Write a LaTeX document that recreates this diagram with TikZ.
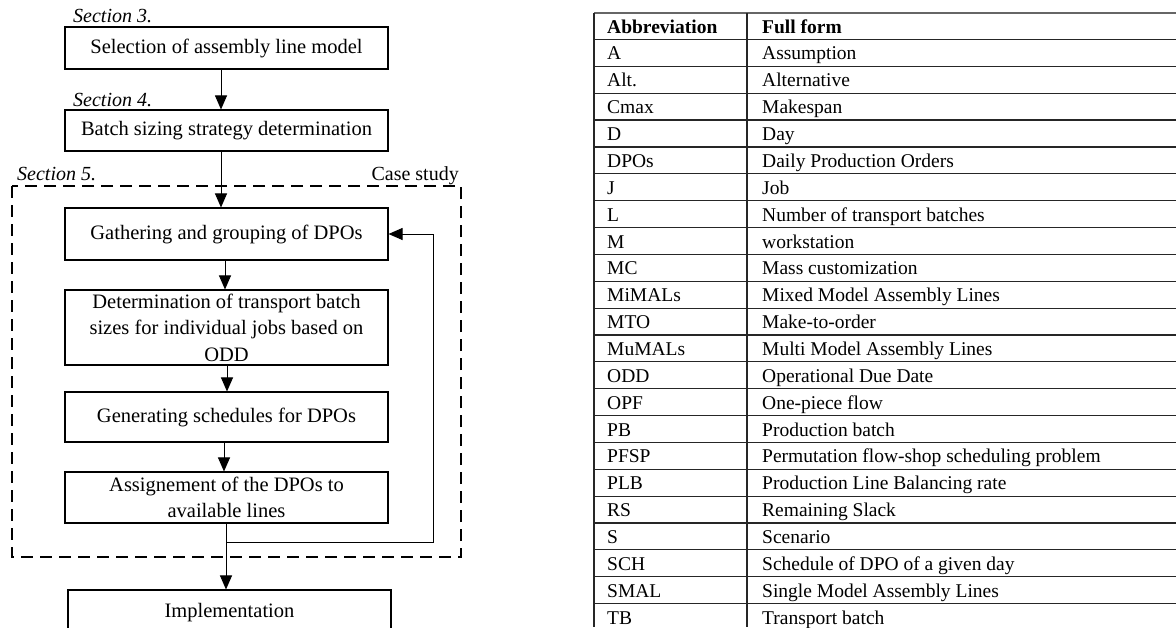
\documentclass[tikz,border=0pt]{standalone}
\usepackage{fontspec}
\setmainfont{Liberation Serif}
\usepackage{tikz}
\usetikzlibrary{arrows.meta}
\tikzset{stage/.style={draw, line width=1.1pt, minimum width=323pt, inner sep=0pt,
   align=center, font=\fontsize{20.5}{26.5}\selectfont},
 arr/.style={line width=1pt, -{Triangle[length=14pt,width=12pt]}},
 seclabel/.style={anchor=base west, inner sep=0pt, font=\fontsize{20}{24}\selectfont\itshape},
 casebox/.style={line width=2.6pt, dash pattern=on 12pt off 7pt},
 cell/.style={anchor=base west, inner sep=0pt, font=\fontsize{19.5}{22}\selectfont},
 headcell/.style={cell, font=\fontsize{19.5}{22}\selectfont\bfseries},
 rule/.style={line width=1.2pt, black!85},
 }

\begin{document}
\begin{tikzpicture}[x=1pt, y=-1pt]
        \clip (0,0) rectangle (1176,627);
        \fill[white] (0,0) rectangle (1176,627);
        % flow chart
        \node[seclabel] (sec3) at (73, 22) {Section 3.};
        \node[seclabel] (sec4) at (73, 106) {Section 4.};
        \node[seclabel] (sec5) at (17, 180) {Section 5.};
        \node[anchor=base east, inner sep=0pt, font=\fontsize{20}{24}\selectfont] (case) at (459, 180) {Case study};
        \draw[casebox] (12, 186) rectangle (461, 557);
        \node[stage, minimum height=42pt] (sel) at (226.5, 48) {Selection of assembly line model};
        \node[stage, minimum height=41pt] (batch) at (226.5, 130.5) {Batch sizing strategy determination};
        \node[stage, minimum height=52pt] (gather) at (226.5, 234) {Gathering and grouping of DPOs};
        \node[stage, minimum height=75pt] (transp) at (226.5, 327.5) {Determination of transport batch\\sizes for individual jobs based on\\ODD};
        \node[stage, minimum height=50pt] (sched) at (226.5, 417) {Generating schedules for DPOs};
        \node[stage, minimum height=51pt] (assign) at (226.5, 497.5) {Assignement of the DPOs to\\available lines};
        \node[stage, minimum height=46pt] (impl) at (229.5, 613) {Implementation};
        \draw[arr] ([xshift=-5.5pt]sel.south) -- ([xshift=-5.5pt]batch.north);
        \draw[arr] ([xshift=-5.5pt]batch.south) -- ([xshift=-5.5pt]gather.north);
        \draw[arr] ([xshift=-1.5pt]gather.south) -- ([xshift=-1.5pt]transp.north);
        \draw[arr] ([xshift=0.5pt]transp.south) -- ([xshift=0.5pt]sched.north);
        \draw[arr] ([xshift=-2.5pt]sched.south) -- ([xshift=-2.5pt]assign.north);
        \draw[arr] ([xshift=-0.5pt]assign.south) -- ([xshift=-3.5pt]impl.north);
        % loop back
        \coordinate (split) at (226, 542);
        \coordinate (turn) at (433, 542);
        \draw[arr] (split) -- (turn) |- (gather.east);
        % abbreviation table
        \draw[rule, black!60] (594, 13) -- (1176, 13);
        \draw[rule, line width=1.6pt] (594, 39.5) -- (1176, 39.5);
        \draw[rule] (594, 66.36) -- (1176, 66.36);
        \draw[rule] (594, 93.22) -- (1176, 93.22);
        \draw[rule] (594, 120.08) -- (1176, 120.08);
        \draw[rule] (594, 146.94) -- (1176, 146.94);
        \draw[rule] (594, 173.8) -- (1176, 173.8);
        \draw[rule] (594, 200.66) -- (1176, 200.66);
        \draw[rule] (594, 227.52) -- (1176, 227.52);
        \draw[rule] (594, 254.38) -- (1176, 254.38);
        \draw[rule] (594, 281.24) -- (1176, 281.24);
        \draw[rule] (594, 308.1) -- (1176, 308.1);
        \draw[rule] (594, 334.96) -- (1176, 334.96);
        \draw[rule] (594, 361.82) -- (1176, 361.82);
        \draw[rule] (594, 388.68) -- (1176, 388.68);
        \draw[rule] (594, 415.54) -- (1176, 415.54);
        \draw[rule] (594, 442.4) -- (1176, 442.4);
        \draw[rule] (594, 469.26) -- (1176, 469.26);
        \draw[rule] (594, 496.12) -- (1176, 496.12);
        \draw[rule] (594, 522.98) -- (1176, 522.98);
        \draw[rule] (594, 549.84) -- (1176, 549.84);
        \draw[rule] (594, 576.7) -- (1176, 576.7);
        \draw[rule] (594, 603.56) -- (1176, 603.56);
        \draw[rule] (594, 13) -- (594, 627);
        \draw[rule] (747, 13) -- (747, 627);
        \node[headcell] (habb) at (607, 33.3) {Abbreviation};
        \node[headcell] (hfull) at (762, 33.3) {Full form};
        \node[cell] (a1) at (607, 59.9) {A};
        \node[cell] (f1) at (762, 59.9) {Assumption};
        \node[cell] (a2) at (607, 86.8) {Alt.};
        \node[cell] (f2) at (762, 86.8) {Alternative};
        \node[cell] (a3) at (607, 113.7) {Cmax};
        \node[cell] (f3) at (762, 113.7) {Makespan};
        \node[cell] (a4) at (607, 140.5) {D};
        \node[cell] (f4) at (762, 140.5) {Day};
        \node[cell] (a5) at (607, 167.4) {DPOs};
        \node[cell] (f5) at (762, 167.4) {Daily Production Orders};
        \node[cell] (a6) at (607, 194.2) {J};
        \node[cell] (f6) at (762, 194.2) {Job};
        \node[cell] (a7) at (607, 221.1) {L};
        \node[cell] (f7) at (762, 221.1) {Number of transport batches};
        \node[cell] (a8) at (607, 248) {M};
        \node[cell] (f8) at (762, 248) {workstation};
        \node[cell] (a9) at (607, 274.8) {MC};
        \node[cell] (f9) at (762, 274.8) {Mass customization};
        \node[cell] (a10) at (607, 301.7) {MiMALs};
        \node[cell] (f10) at (762, 301.7) {Mixed Model Assembly Lines};
        \node[cell] (a11) at (607, 328.5) {MTO};
        \node[cell] (f11) at (762, 328.5) {Make-to-order};
        \node[cell] (a12) at (607, 355.4) {MuMALs};
        \node[cell] (f12) at (762, 355.4) {Multi Model Assembly Lines};
        \node[cell] (a13) at (607, 382.3) {ODD};
        \node[cell] (f13) at (762, 382.3) {Operational Due Date};
        \node[cell] (a14) at (607, 409.1) {OPF};
        \node[cell] (f14) at (762, 409.1) {One-piece flow};
        \node[cell] (a15) at (607, 436) {PB};
        \node[cell] (f15) at (762, 436) {Production batch};
        \node[cell] (a16) at (607, 462.8) {PFSP};
        \node[cell] (f16) at (762, 462.8) {Permutation flow-shop scheduling problem};
        \node[cell] (a17) at (607, 489.7) {PLB};
        \node[cell] (f17) at (762, 489.7) {Production Line Balancing rate};
        \node[cell] (a18) at (607, 516.6) {RS};
        \node[cell] (f18) at (762, 516.6) {Remaining Slack};
        \node[cell] (a19) at (607, 543.4) {S};
        \node[cell] (f19) at (762, 543.4) {Scenario};
        \node[cell] (a20) at (607, 570.3) {SCH};
        \node[cell] (f20) at (762, 570.3) {Schedule of DPO of a given day};
        \node[cell] (a21) at (607, 597.1) {SMAL};
        \node[cell] (f21) at (762, 597.1) {Single Model Assembly Lines};
        \node[cell] (a22) at (607, 624) {TB};
        \node[cell] (f22) at (762, 624) {Transport batch};
    \end{tikzpicture}
\end{document}
